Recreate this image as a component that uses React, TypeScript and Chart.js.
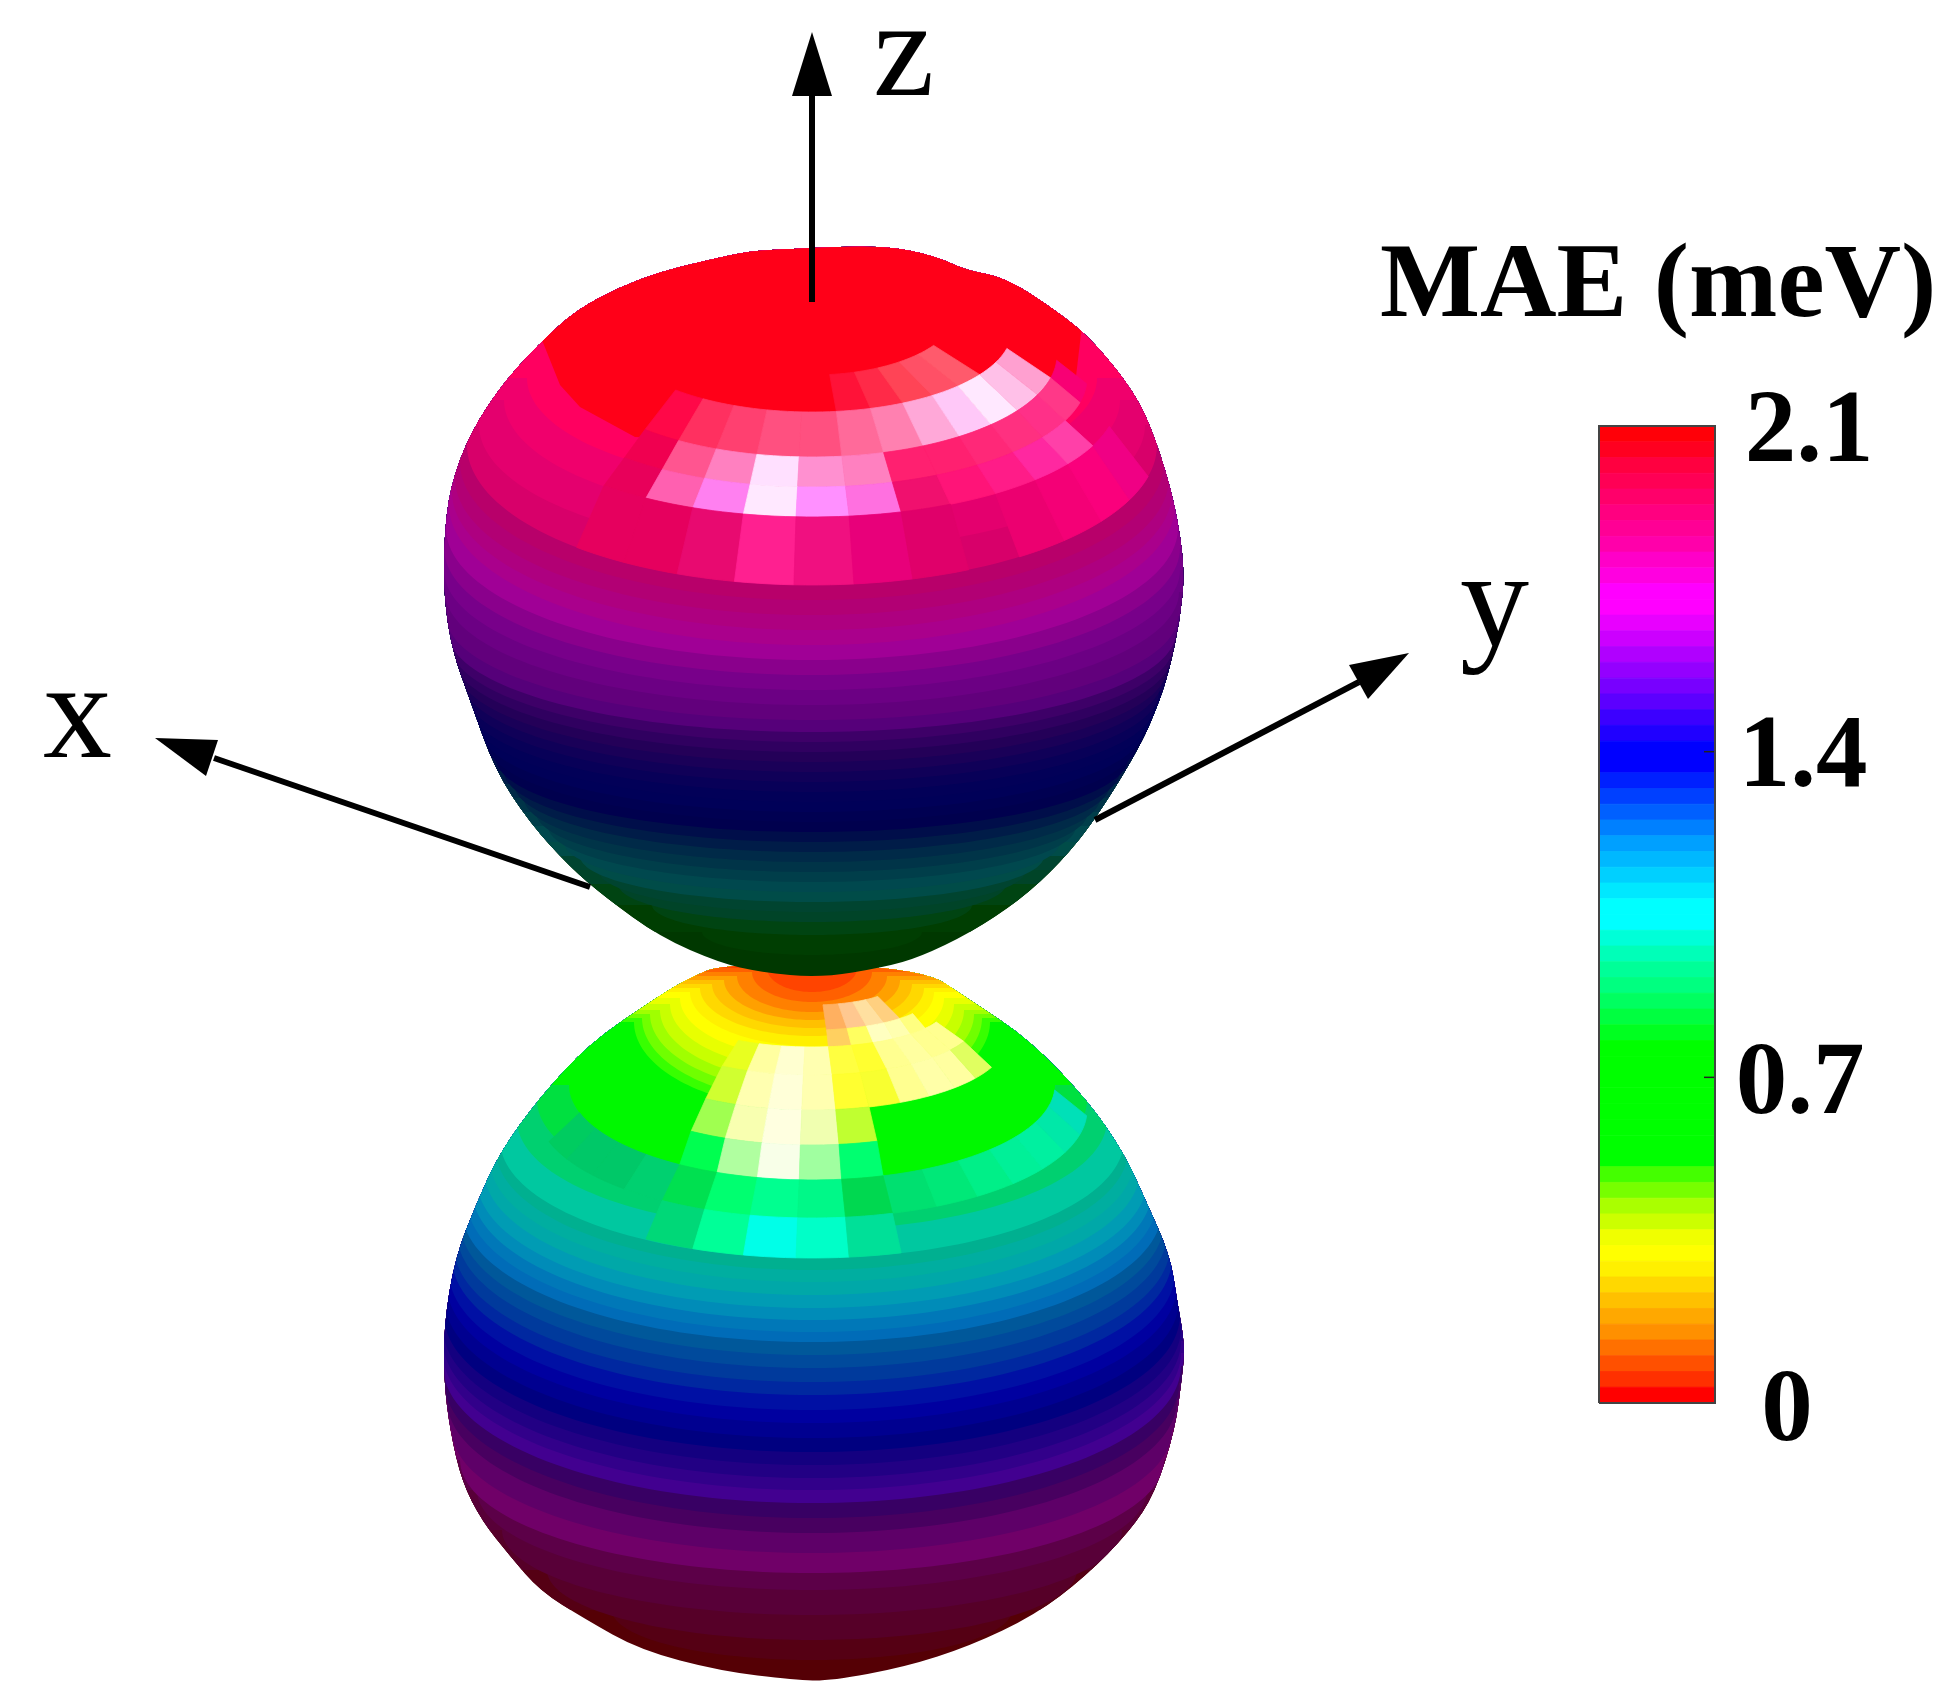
import React, { useEffect, useRef } from "react";
import { Chart, registerables } from "chart.js";
Chart.register(...registerables);

const AXIS_X = 812;

// Lobe silhouettes
const upperOutlineX = [770,855,900,940,965,1007,1065,1095,1135,1155,1175,1185,1180,1170,1160,1140,1095,1060,1020,970,920,885,820,760,720,660,605,570,530,495,470,452,444,444,450,470,505,550,580,620,660,700,745];
const upperOutlineY = [250,246,248,258,270,278,317,343,393,437,503,570,620,667,700,747,820,863,900,933,957,967,978,972,963,937,897,867,823,770,700,650,597,540,487,433,380,333,308,287,272,262,252];
const lowerOutlineX = [725,685,650,590,540,500,477,455,444,444,450,462,482,510,540,585,640,720,795,830,905,970,1035,1085,1130,1155,1175,1182,1185,1177,1170,1145,1125,1090,1030,970,920];
const lowerOutlineY = [963,980,1002,1043,1097,1152,1202,1258,1325,1381,1430,1482,1521,1556,1591,1619,1650,1671,1680,1681,1667,1646,1615,1577,1531,1493,1430,1377,1346,1300,1255,1199,1155,1103,1040,1000,967];

// Latitude rings of the upper lobe: front y, ring centre y, half width, band colour
const upperRingFront = [485,517,550,585,600,615,630,645,660,675,690,705,720,732,742,752,762,772,782,792,802,812,822,832,842,852,862,872,882,892,902,912,922,935,955];
const upperRingCentre = [378,400,425,445,462,478,492,505,528,548,570,592,616,632,644,656,668,680,692,706,718,730,744,758,771,784,798,812,826,842,856,870,884,905,932];
const upperRingHalf = [285,308,333,345,352,357,360,363,366,368,368,367,366,364,362,359,355,350,347,342,337,331,324,316,308,298,288,276,264,248,232,214,194,160,110];
const upperRingColor = ["#ff0060","#f0006c","#e4006e","#d8006a","#b8006a","#b20074","#ae0080","#aa008c","#a00096","#8a008c","#78008a","#6c0084","#62007c","#56007a","#3e0068","#300060","#240058","#1a0058","#100058","#080058","#020058","#000058","#000052","#00004e","#000e4a","#001c48","#002a48","#003448","#003e4a","#00484e","#004c48","#004430","#004428","#004412","#003e02"];
const upperBase = "#003800";

// Latitude rings of the lower lobe
const lowerRingFront = [992,1002,1012,1020,1028,1036,1046,1058,1070,1082,1092,1102,1110,1180,1205,1230,1258,1270,1282,1295,1308,1320,1332,1342,1355,1368,1382,1395,1410,1423,1438,1452,1465,1478,1490,1503,1518,1533,1553,1573,1590,1615,1640,1660];
const lowerRingCentre = [968,972,976,980,984,988,992,998,1004,1010,1014,1018,1022,1085,1100,1120,1140,1150,1160,1170,1180,1190,1200,1210,1222,1233,1246,1258,1272,1285,1300,1315,1328,1341,1353,1366,1383,1400,1430,1460,1490,1530,1570,1610];
const lowerRingHalf = [45,60,75,88,100,112,122,132,142,152,162,170,178,243,275,295,312,316,322,328,335,340,345,350,352,355,358,360,363,365,367,368,369,369,369,369,367,365,360,352,335,310,265,200];
const lowerRingColor = ["#ff4400","#ff6000","#ff8000","#ffa000","#ffc000","#ffd800","#fff000","#ffff00","#e8ff00","#c8ff00","#a0ff00","#70ff00","#38ff00","#00f800","#00e040","#00d070","#00c8a0","#00b090","#00aea0","#00a8a8","#009cb4","#008cb8","#0078b8","#006cb8","#00589a","#004a9c","#003a9c","#0028a0","#0010a4","#0000a0","#000090","#000080","#140080","#220084","#32008a","#420090","#380064","#480060","#5e0068","#700068","#5c0048","#580038","#560028","#550014"];
const lowerBase = "#550005";

// Red cap of the upper lobe
const capX = [540,560,580,635,720,812,950,1075,1085,1000,812,620];
const capY = [335,385,407,437,440,440,440,385,300,240,230,240];
const capColor = "#ff0018";

// Lit tiles: ring rows, then top ring, first azimuth and a colour per 10 degree column
const upperTileFront = [375,412,457,487,517,585];
const upperTileCentre = [310,330,355,378,400,445];
const upperTileHalf = [145,200,245,275,305,345];
const upperTileTop = [4,2,0,1,2,3,4];
const upperTileStart = [37,67,7,-43,-43,-43,-43];
const upperTileRows = [
  ["#ec0070","#f40076","#fa007c","#f00084"],
  ["#ff0070","#f80074"],
  ["#ff1238","#ff2a48","#ff4456","#ff5066","#ff5a6c"],
  ["#ff0848","#ff3060","#ff4070","#ff5080","#ff5080","#ff6a9a","#ff80b0","#ffa8d8","#ffc8f8","#ffe8ff","#ffc0e8","#ffa0d0"],
  ["#f00050","#ff5590","#ff80c0","#ffe0ff","#ff90d0","#ff80c0","#ff2070","#ff2070","#ff2878","#ff3080","#ff3088","#ff3888"],
  ["#e8005a","#ff60b0","#ff80f0","#ffe8ff","#ff90ff","#ff70e0","#f0106e","#ff1478","#ff1c88","#ff28a0","#ff40a8"],
  ["#e6005e","#e6005e","#e80a70","#ff2090","#f01080","#e8007a","#e0006a"],
];

const lowerTileFront = [1005,1030,1047,1075,1110,1145,1180,1218,1258];
const lowerTileCentre = [978,994,1006,1020,1040,1060,1085,1110,1140];
const lowerTileHalf = [90,120,135,165,195,222,243,275,305];
const lowerTileTop = [6,6,0,1,2,3,4,5,6,7];
const lowerTileStart = [-73,17,7,7,-33,-33,-33,-33,-33,-33];
const lowerTileRows = [
  ["#00cc60","#00c868","#00c868","#00d070"],
  ["#00e070","#00e878","#00ef88","#00f098","#00f0a0","#00e8a8","#00e0b8"],
  ["#ffb060","#ffc890","#ffe0a0","#ffd080"],
  ["#ffd060","#ffff60","#ffffc0","#ffffb0","#ffff80"],
  ["#e8ff20","#ffffa0","#ffffd0","#ffffb0","#ffff40","#ffff30","#ffff90","#ffffa0","#ffff90","#ffff90"],
  ["#d0ff30","#ffffb0","#ffffd8","#ffffb0","#ffff30","#f8ff30","#ffff90","#ffffa8","#ffffa0","#e0ff60"],
  ["#a0ff50","#f8ffb0","#ffffe0","#f0ffb0","#c0ff30"],
  ["#00ff50","#b0ffa0","#f8ffe8","#a0ffa0","#00ff70"],
  ["#00e050","#00ff70","#00ff90","#00f888","#00d850"],
  ["#00d878","#00ff98","#00ffe8","#00ffc8","#00e098"],
];

// Colour bar
const barColors = ["#ff0008","#ff0020","#ff0040","#ff0055","#ff006a","#ff0080","#ff0095","#ff00aa","#ff00c8","#ff00e0","#ff00ff","#ff00ff","#e800ff","#cc00ff","#b000ff","#9400ff","#7800ff","#5c00ff","#3c00ff","#2000ff","#0000ff","#0000ff","#0020ff","#0040ff","#0060ff","#0080ff","#00a0ff","#00b8ff","#00d0ff","#00e8ff","#00ffff","#00ffff","#00ffd8","#00ffb8","#00ff98","#00ff80","#00ff60","#00ff40","#00ff20","#00ff00","#00ff00","#00ff00","#00ff00","#00ff00","#00ff00","#00ff00","#00ff00","#44ff00","#77ff00","#aaff00","#ccff00","#f0ff00","#ffff00","#fff000","#ffd800","#ffc000","#ffa800","#ff9000","#ff7000","#ff5000","#ff3000","#ff0000"];
const barMax = 2.1;
const barTicks = [1.4, 0.7];
const barTickLabels = ["2.1","1.4","0.7","0"];
const barTickLabelBase = [2.025,1.326,0.623,-0.08];
const barTickLabelX = [1809,1803,1800,1787];
const barLeft = 1599;
const barRight = 1715;

// Axis arrows
const zShaftX = [812,812]; const zShaftY = [302,96];
const zHeadX = [812,792,832]; const zHeadY = [32,96,96];
const xShaftX = [590,214]; const xShaftY = [887,758];
const xHeadX = [155,218,206]; const xHeadY = [738,740,776];
const yShaftX = [1095,1359]; const yShaftY = [820,682];
const yHeadX = [1409,1349,1368]; const yHeadY = [653,665,699];
const axisLetters = ["x","y","z"];
const axisLetterX = [43,1460,873];
const axisLetterY = [757,646,95];
const barTitle = "MAE (meV)";

type P = { x: number; y: number };
const zip = (xs: number[], ys: number[]): P[] => xs.map((x, i) => ({ x, y: ys[i] }));
const arc = (front: number, centre: number, half: number, from: number, to: number): P[] => {
  const out: P[] = [];
  const n = Math.max(1, Math.round(Math.abs(to - from) / 2));
  for (let i = 0; i <= n; i++) {
    const t = ((from + ((to - from) * i) / n) * Math.PI) / 180;
    out.push({ x: AXIS_X + half * Math.sin(t), y: centre + (front - centre) * Math.cos(t) });
  }
  return out;
};

function poly(data: P[], color: string, clipTo?: number, extra: any = {}) {
  return { data, showLine: false, pointRadius: 0, polygonColor: color, clipTo, yAxisID: "y", ...extra };
}

function addLobe(ds: any[], outline: P[], base: string, front: number[], centre: number[], half: number[], color: string[], extra: () => void, tFront: number[], tCentre: number[], tHalf: number[], tTop: number[], tStart: number[], tRows: string[][]) {
  const idx = ds.length;
  ds.push(poly(outline, base, undefined, { smooth: true }));
  for (let i = front.length - 1; i >= 0; i--) {
    const c = centre[i];
    const pts = [{ x: 0, y: 0 }, { x: 0, y: c }, ...arc(front[i], c, half[i], -90, 90), { x: 1950, y: c }, { x: 1950, y: 0 }];
    ds.push(poly(pts, color[i], idx));
  }
  extra();
  tRows.forEach((row, r) => row.forEach((col, k) => {
    const t0 = tStart[r] + k * 10;
    const a = tTop[r];
    const top = arc(tFront[a], tCentre[a], tHalf[a], t0, t0 + 10);
    const bot = arc(tFront[a + 1], tCentre[a + 1], tHalf[a + 1], t0 + 10, t0);
    ds.push(poly([...top, ...bot], col, idx, { seam: true }));
  }));
  return idx;
}

function buildDatasets() {
  const ds: any[] = [];
  addLobe(ds, zip(lowerOutlineX, lowerOutlineY), lowerBase, lowerRingFront, lowerRingCentre, lowerRingHalf, lowerRingColor, () => {}, lowerTileFront, lowerTileCentre, lowerTileHalf, lowerTileTop, lowerTileStart, lowerTileRows);
  const upperIdx = ds.length;
  addLobe(ds, zip(upperOutlineX, upperOutlineY), upperBase, upperRingFront, upperRingCentre, upperRingHalf, upperRingColor, () => {
    ds.push(poly(zip(capX, capY), capColor, upperIdx));
  }, upperTileFront, upperTileCentre, upperTileHalf, upperTileTop, upperTileStart, upperTileRows);
  // arrow heads
  ds.push(poly(zip(zHeadX, zHeadY), "#000"));
  ds.push(poly(zip(xHeadX, xHeadY), "#000"));
  ds.push(poly(zip(yHeadX, yHeadY), "#000"));
  // arrow shafts, drawn by the library as lines
  [[zShaftX, zShaftY], [xShaftX, xShaftY], [yShaftX, yShaftY]].forEach(([xs, ys]) => {
    ds.push({ data: zip(xs, ys), showLine: true, pointRadius: 0, borderColor: "#000", borderWidth: 6, fill: false, yAxisID: "y" });
  });
  // colour bar
  const step = barMax / barColors.length;
  barColors.forEach((col, i) => {
    const hi = barMax - i * step;
    const lo = hi - step;
    ds.push(poly([{ x: barLeft, y: hi }, { x: barRight, y: hi }, { x: barRight, y: lo }, { x: barLeft, y: lo }], col, undefined, { yAxisID: "bar", seam: true }));
  });
  ds.push({ data: [{ x: barLeft, y: 0 }, { x: barRight, y: 0 }, { x: barRight, y: barMax }, { x: barLeft, y: barMax }, { x: barLeft, y: 0 }], showLine: true, pointRadius: 0, borderColor: "#444", borderWidth: 2, fill: false, yAxisID: "bar" });
  barTicks.forEach((v) => {
    ds.push({ data: [{ x: barRight - 11, y: v }, { x: barRight, y: v }], showLine: true, pointRadius: 0, borderColor: "#222", borderWidth: 1.5, fill: false, yAxisID: "bar" });
  });
  return ds;
}

const tracePath = (ctx: CanvasRenderingContext2D, pts: any[], smooth = false) => {
  ctx.beginPath();
  if (smooth) {
    const n = pts.length;
    ctx.moveTo((pts[n - 1].x + pts[0].x) / 2, (pts[n - 1].y + pts[0].y) / 2);
    pts.forEach((p, i) => {
      const q = pts[(i + 1) % n];
      ctx.quadraticCurveTo(p.x, p.y, (p.x + q.x) / 2, (p.y + q.y) / 2);
    });
  } else {
    pts.forEach((p, i) => (i ? ctx.lineTo(p.x, p.y) : ctx.moveTo(p.x, p.y)));
  }
  ctx.closePath();
};

const polygonPlugin = {
  id: "polygons",
  beforeDatasetsDraw(chart: any) {
    const ctx = chart.ctx as CanvasRenderingContext2D;
    chart.data.datasets.forEach((d: any, i: number) => {
      if (!d.polygonColor) return;
      const pts = chart.getDatasetMeta(i).data;
      ctx.save();
      if (d.clipTo !== undefined) {
        tracePath(ctx, chart.getDatasetMeta(d.clipTo).data, true);
        ctx.clip();
      }
      tracePath(ctx, pts, !!d.smooth);
      ctx.fillStyle = d.polygonColor;
      ctx.fill();
      if (d.seam) {
        ctx.strokeStyle = d.polygonColor;
        ctx.lineWidth = 0.8;
        ctx.stroke();
      }
      ctx.restore();
    });
  },
  afterDatasetsDraw(chart: any) {
    const ctx = chart.ctx as CanvasRenderingContext2D;
    const sx = chart.scales.x, sy = chart.scales.y, sb = chart.scales.bar;
    ctx.save();
    ctx.fillStyle = "#000";
    ctx.textBaseline = "alphabetic";
    ctx.font = 'bold 106px "Liberation Serif"';
    ctx.textAlign = "left";
    ctx.fillText(barTitle, sx.getPixelForValue(1380), sy.getPixelForValue(316));
    ctx.font = 'bold 103px "Liberation Serif"';
    ctx.textAlign = "center";
    barTickLabels.forEach((t, i) => {
      ctx.fillText(t, sx.getPixelForValue(barTickLabelX[i]), sb.getPixelForValue(barTickLabelBase[i]));
    });
    ctx.font = '138px "Liberation Serif"';
    ctx.textAlign = "left";
    axisLetters.forEach((t, i) => {
      ctx.fillText(t, sx.getPixelForValue(axisLetterX[i]), sy.getPixelForValue(axisLetterY[i]));
    });
    ctx.restore();
  },
};

export default function App() {
  const ref = useRef<HTMLCanvasElement>(null);
  useEffect(() => {
    const chart = new Chart(ref.current as HTMLCanvasElement, {
      type: "scatter",
      data: { datasets: buildDatasets() },
      plugins: [polygonPlugin],
      options: {
        animation: false,
        responsive: false,
        layout: { padding: 0 },
        events: [],
        plugins: { legend: { display: false }, tooltip: { enabled: false } },
        scales: {
          x: { type: "linear", min: 0, max: 1950, display: false },
          y: { type: "linear", min: 0, max: 1695, reverse: true, display: false },
          bar: { type: "linear", min: -0.6276, max: 3.0157, display: false },
        },
      },
    } as any);
    return () => chart.destroy();
  }, []);
  return (
    <div style={{ position: "absolute", left: 0, top: 0, width: 1950, height: 1695, background: "#fff" }}>
      <canvas ref={ref} width={1950} height={1695} style={{ display: "block" }} />
    </div>
  );
}
